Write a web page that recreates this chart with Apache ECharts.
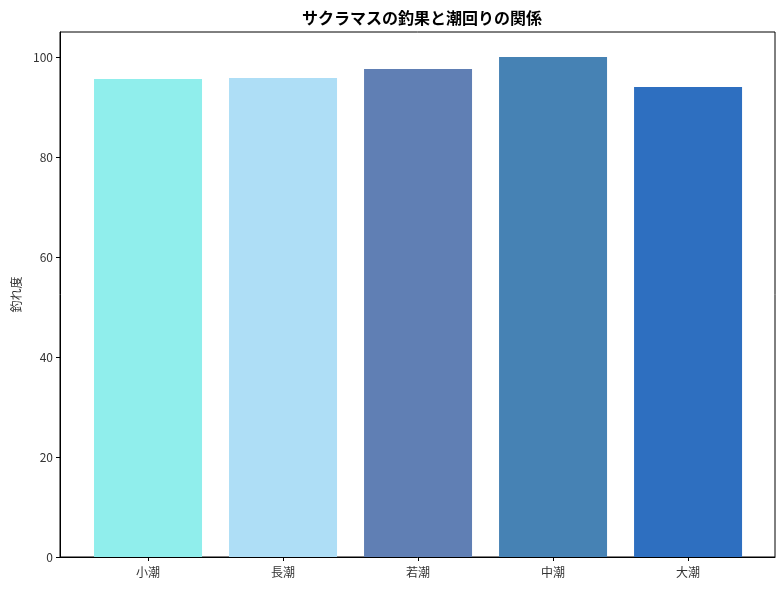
<!DOCTYPE html>
<html>
<head>
<meta charset="utf-8">
<script src="https://cdn.jsdelivr.net/npm/echarts@6/dist/echarts.min.js"></script>
<style>
  html, body { margin: 0; padding: 0; background: #fff; }
  #chart_container { width: 784px; height: 590px; }
</style>
</head>
<body>
<div id="chart_container"></div>
<script>
// data
const tides = ["小潮", "長潮", "若潮", "中潮", "大潮"]
const catchScore = [95.6, 95.8, 97.6, 100.0, 94.0]
const barColors = ["#90EEEC", "#AEDEF6", "#607FB4", "#4682B4", "#2E6FC0"]
const yTicks = [0, 20, 40, 60, 80, 100]

const FONT = "'Noto Sans CJK JP', 'Noto Sans', sans-serif"

function buildChart(){
    let chart_container = document.getElementById('chart_container')
    let chart = echarts.init(chart_container)

    // bars on a value axis so the spacing matches (x = index)
    let barData = catchScore.map((v, i) => ({
        value: [i, v],
        itemStyle: { color: barColors[i] }
    }))
    let xPositions = tides.map((t, i) => i)

    let option = {
        animation: false,
        backgroundColor: "#ffffff",
        title: {
            text: "サクラマスの釣果と潮回りの関係",
            left: 417, top: 5, textAlign: "center",
            textStyle: { fontFamily: FONT, fontSize: 16, fontWeight: "bold", color: "#000" }
        },
        grid: {
            left: 60, right: 9, top: 32, bottom: 33,
            show: true, borderColor: "#000", borderWidth: 1, backgroundColor: "#fff"
        },
        xAxis: {
            type: "value",
            min: -0.652, max: 4.644,
            splitLine: { show: false },
            axisLine: { show: true, onZero: false, lineStyle: { color: "#000" } },
            axisTick: { show: true, length: 4, customValues: xPositions, lineStyle: { color: "#000" } },
            axisLabel: {
                customValues: xPositions,
                formatter: v => tides[Math.round(v)],
                fontFamily: FONT, fontSize: 12, color: "#333", margin: 9
            }
        },
        yAxis: {
            type: "value",
            min: 0, max: 105,
            name: "釣れ度",
            nameLocation: "middle",
            nameGap: 38,
            nameTextStyle: { fontFamily: FONT, fontSize: 12, color: "#333" },
            splitLine: { show: false },
            axisLine: { show: true, onZero: false, lineStyle: { color: "#000" } },
            axisTick: { show: true, length: 4, customValues: yTicks, lineStyle: { color: "#000" } },
            axisLabel: {
                customValues: yTicks,
                fontFamily: FONT, fontSize: 12, color: "#333", margin: 7
            }
        },
        series: [
            {
                name: "釣れ度",
                type: "bar",
                barWidth: 108,
                data: barData
            }
        ]
    }
    chart.setOption(option)
}

buildChart()
</script>
</body>
</html>
